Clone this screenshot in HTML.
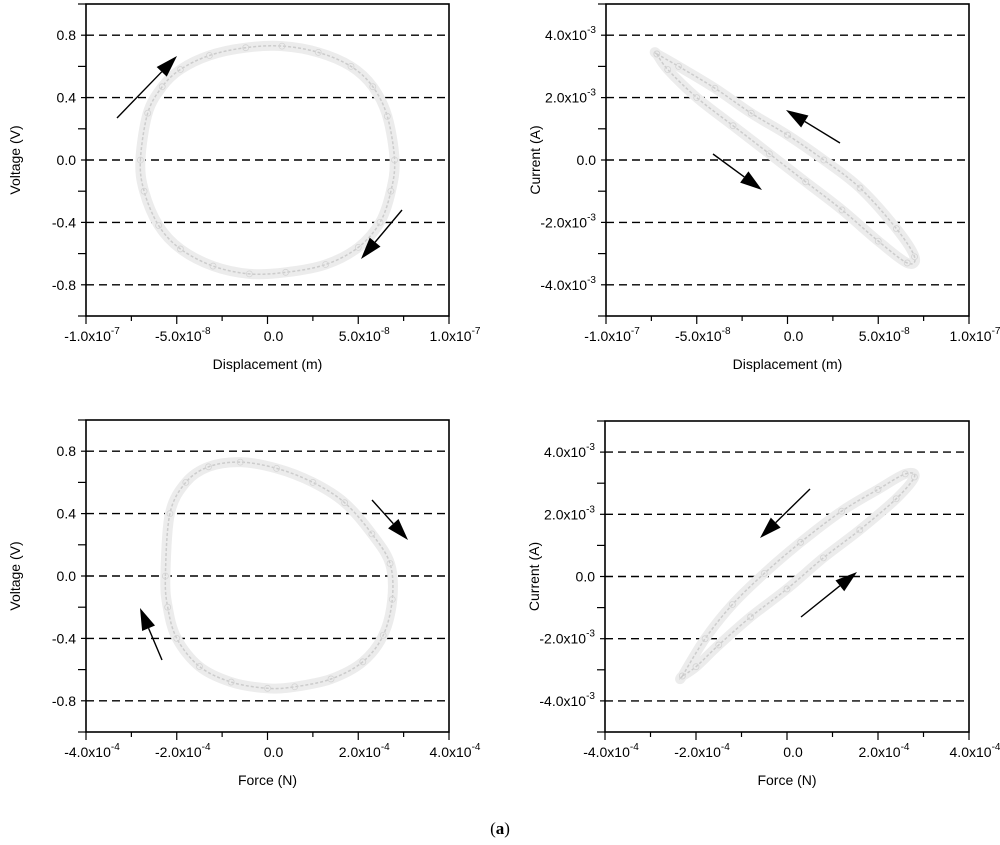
<!DOCTYPE html>
<html><head><meta charset="utf-8">
<style>
html,body{margin:0;padding:0;background:#fff;}
svg{display:block;font-family:"Liberation Sans",Arial,sans-serif;}
</style></head>
<body>
<svg id="fig" width="1000" height="845" viewBox="0 0 1000 845" xmlns="http://www.w3.org/2000/svg">
<text x="500" y="834" font-family="Liberation Serif,serif" font-size="17" text-anchor="middle">(<tspan font-weight="bold">a</tspan>)</text>
</svg>
<script>
// Panel TL: Voltage vs Displacement (x in 1e-8 m)
const tlX = [-70,-66,-58,-48,-32,-12,8,28,46,58,66,70,68,62,50,32,10,-10,-30,-48,-60,-68];
const tlY = [0,0.3,0.47,0.58,0.67,0.72,0.73,0.69,0.6,0.47,0.28,0,-0.2,-0.4,-0.56,-0.67,-0.72,-0.73,-0.68,-0.57,-0.42,-0.2];
// Panel TR: Current (1e-3 A) vs Displacement (1e-8 m)
const trX = [-72,-60,-40,-20,0,20,40,60,70,66,50,30,10,-10,-30,-50,-66,-72];
const trY = [3.4,3.0,2.3,1.5,0.8,0.0,-0.9,-2.2,-3.1,-3.3,-2.6,-1.6,-0.7,0.2,1.1,2.0,2.9,3.4];
// Panel BL: Voltage vs Force (1e-4 N)
const blX = [-2.25,-2.15,-1.8,-1.3,-0.6,0.2,1.0,1.7,2.3,2.7,2.75,2.55,2.1,1.4,0.6,0.0,-0.8,-1.5,-2.0,-2.2];
const blY = [0,0.4,0.6,0.7,0.73,0.69,0.6,0.47,0.27,0.08,-0.15,-0.38,-0.55,-0.66,-0.71,-0.72,-0.68,-0.58,-0.4,-0.2];
// Panel BR: Current (1e-3 A) vs Force (1e-4 N)
const brX = [-2.3,-1.8,-1.2,-0.5,0.3,1.2,2.0,2.6,2.8,2.4,1.6,0.8,0.0,-0.8,-1.5,-2.0,-2.3];
const brY = [-3.2,-2.0,-0.9,0.1,1.1,2.1,2.8,3.3,3.2,2.5,1.5,0.6,-0.4,-1.3,-2.2,-2.9,-3.2];

const xTicksDisp = ['-1.0x10|-7','-5.0x10|-8','0.0','5.0x10|-8','1.0x10|-7'];
const xTicksForce = ['-4.0x10|-4','-2.0x10|-4','0.0','2.0x10|-4','4.0x10|-4'];
const yTicksV = ['0.8','0.4','0.0','-0.4','-0.8'];
const yTicksI = ['4.0x10|-3','2.0x10|-3','0.0','-2.0x10|-3','-4.0x10|-3'];

const NS='http://www.w3.org/2000/svg';
const svg=document.getElementById('fig');
function mk(tag,attrs,parent){const e=document.createElementNS(NS,tag);for(const k in attrs)e.setAttribute(k,attrs[k]);(parent||svg).appendChild(e);return e;}
function label(g,txt,x,y,anchor){
  const t=mk('text',{x:x,y:y,'font-size':14,'text-anchor':anchor},g);
  const p=txt.split('|');
  t.appendChild(document.createTextNode(p[0]));
  if(p[1]){const s=mk('tspan',{dy:-7,'font-size':10},t);s.textContent=p[1];}
  return t;
}
function smoothPath(P){
  const n=P.length;let d=`M${P[0][0].toFixed(1)},${P[0][1].toFixed(1)}`;
  for(let i=0;i<n;i++){
    const p0=P[(i-1+n)%n],p1=P[i],p2=P[(i+1)%n],p3=P[(i+2)%n];
    const c1=[p1[0]+(p2[0]-p0[0])/6,p1[1]+(p2[1]-p0[1])/6];
    const c2=[p2[0]-(p3[0]-p1[0])/6,p2[1]-(p3[1]-p1[1])/6];
    d+=` C${c1[0].toFixed(1)},${c1[1].toFixed(1)} ${c2[0].toFixed(1)},${c2[1].toFixed(1)} ${p2[0].toFixed(1)},${p2[1].toFixed(1)}`;
  }
  return d+'Z';
}
function panel(name,L,T,W,H,xmin,xmax,ymin,ymax,xt,yt,xTitle,yTitle,xs,ys,arrows){
  const g=mk('g',{});
  
  
  const sx=v=>L+(v-xmin)/(xmax-xmin)*W, sy=v=>T+(ymax-v)/(ymax-ymin)*H;
  const yStep=(ymax-ymin)/10;
  for(let i=0;i<5;i++){
    const v=ymax-yStep*(1+2*i);
    const l=mk('line',{x1:L,x2:L+W,y1:sy(v),y2:sy(v),stroke:'#000','stroke-width':1.4,'stroke-dasharray':'8,5'},g);
    
    
    const tl=label(g,yt[i],L-10,sy(v)+5,'end');
    
    
  }
  for(let i=0;i<=10;i++){const y=T+H*i/10;mk('line',{x1:L-(i%2?5:8),x2:L,y1:y,y2:y,stroke:'#000','stroke-width':1.2},g);}
  for(let i=0;i<=8;i++){const x=L+W*i/8;mk('line',{x1:x,x2:x,y1:T+H,y2:T+H+(i%2?5:8),stroke:'#000','stroke-width':1.2},g);}
  for(let i=0;i<5;i++){
    const tl=label(g,xt[i],L+W*i/4+6,T+H+25,'middle');
    
    
  }
  const box=mk('rect',{x:L,y:T,width:W,height:H,fill:'none',stroke:'#000','stroke-width':1.6},g);
  
  
  const xtl=mk('text',{x:L+W/2,y:T+H+53,'font-size':14,'text-anchor':'middle'},g);xtl.textContent=xTitle;
  
  
  const ytl=mk('text',{x:0,y:0,'font-size':14,'text-anchor':'middle',transform:`translate(${L-66},${T+H/2}) rotate(-90)`},g);ytl.textContent=yTitle;
  
  
  const P=xs.map((v,i)=>[sx(v),sy(ys[i])]);
  const d=smoothPath(P);
  const band=mk('path',{d:d,fill:'none',stroke:'#ececec','stroke-width':10,'stroke-linejoin':'round'},g);
  
  
  const ln=mk('path',{d:d,fill:'none',stroke:'#cccccc','stroke-width':1.5,'stroke-dasharray':'3,2'},g);
  
  
  xs.forEach((v,i)=>{const c=mk('circle',{cx:sx(v),cy:sy(ys[i]),r:3,fill:'none',stroke:'#d4d4d4','stroke-width':0.8},g);
    
    });
  arrows.forEach(a=>{
    const [x1,y1,x2,y2]=a;const ang=Math.atan2(y2-y1,x2-x1);
    const ag=mk('g',{},g);
    
    
    const hx=x2-22*Math.cos(ang),hy=y2-22*Math.sin(ang);
    mk('line',{x1:x1,y1:y1,x2:hx,y2:hy,stroke:'#000','stroke-width':1.4},ag);
    const px=-Math.sin(ang)*7,py=Math.cos(ang)*7;
    mk('polygon',{points:`${x2},${y2} ${hx+px},${hy+py} ${hx-px},${hy-py}`,fill:'#000'},ag);
  });
}
panel('panel-voltage-displacement',86,4,363,312,-10,10,-1,1,xTicksDisp,yTicksV,'Displacement (m)','Voltage (V)',tlX.map(v=>v/10),tlY,[[117,118,177,56],[402,210,361,259]]);
panel('panel-current-displacement',606,4,363,312,-10,10,-5,5,xTicksDisp,yTicksI,'Displacement (m)','Current (A)',trX.map(v=>v/10),trY,[[840,143,786,110],[713,154,762,190]]);
panel('panel-voltage-force',86,420,363,312,-4,4,-1,1,xTicksForce,yTicksV,'Force (N)','Voltage (V)',blX,blY,[[372,500,408,540],[162,660,140,608]]);
panel('panel-current-force',605,421,364,311,-4,4,-5,5,xTicksForce,yTicksI,'Force (N)','Current (A)',brX,brY,[[810,489,760,538],[801,617,857,572]]);
</script>
</body></html>
